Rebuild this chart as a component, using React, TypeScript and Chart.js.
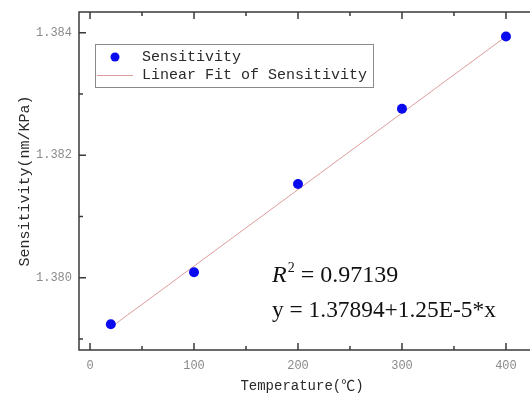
import React, { useEffect, useRef } from "react";
import { Chart, registerables } from "chart.js";

Chart.register(...registerables);

// ---- data ----
const temperatures = [20, 100, 200, 300, 400];
const sensitivity = [1.37924, 1.38009, 1.38153, 1.38276, 1.38394];
const fitX = [20, 400];
const fitY = [1.37919, 1.38394];
const xTickValues = [0, 100, 200, 300, 400];
const xMinorValues = [50, 150, 250, 350];
const yTickValues = [1.38, 1.382, 1.384];
const yMinorValues = [1.379, 1.381, 1.383];
const legendLabels = ["Sensitivity", "Linear Fit of Sensitivity"];
const r2Text = "0.97139";
const equationText = "y = 1.37894+1.25E-5*x";
const xTitle = "Temperature(℃)";
const yTitle = "Sensitivity(nm/KPa)";

const MONO = "'Liberation Mono', 'Noto Sans CJK SC', monospace";
const SERIF = "'Liberation Serif', serif";
const POINT_COLOR = "#0a0aee";
const LINE_COLOR = "#dc9c9c";

const overlay = {
  id: "overlay",
  afterDraw(chart: any) {
    const { ctx, chartArea: a, scales } = chart;
    const x = scales.x;
    const y = scales.y;
    const frameRight = chart.width;
    ctx.save();
    // frame (the right side runs off the picture, as in the original)
    ctx.strokeStyle = "#3a3a3a";
    ctx.lineWidth = 1.5;
    ctx.beginPath();
    ctx.moveTo(frameRight, a.top);
    ctx.lineTo(a.left, a.top);
    ctx.lineTo(a.left, a.bottom);
    ctx.lineTo(frameRight, a.bottom);
    ctx.stroke();
    // inward ticks
    const major = 7;
    const minor = 4;
    ctx.lineWidth = 1.5;
    ctx.beginPath();
    const xt = (v: number, len: number) => {
      const px = x.getPixelForValue(v);
      ctx.moveTo(px, a.bottom);
      ctx.lineTo(px, a.bottom - len);
      ctx.moveTo(px, a.top);
      ctx.lineTo(px, a.top + len);
    };
    const yt = (v: number, len: number) => {
      const py = y.getPixelForValue(v);
      ctx.moveTo(a.left, py);
      ctx.lineTo(a.left + len, py);
    };
    xTickValues.forEach((v) => xt(v, major));
    xMinorValues.forEach((v) => xt(v, minor));
    yTickValues.forEach((v) => yt(v, major));
    yMinorValues.forEach((v) => yt(v, minor));
    ctx.stroke();

    // legend
    const lx = a.left + 16;
    const ly = a.top + 32;
    const lw = 278;
    const lh = 43;
    ctx.strokeStyle = "#8a8a8a";
    ctx.lineWidth = 1;
    ctx.strokeRect(lx + 0.5, ly + 0.5, lw, lh);
    ctx.fillStyle = POINT_COLOR;
    ctx.beginPath();
    ctx.arc(lx + 20, ly + 13, 4.5, 0, Math.PI * 2);
    ctx.fill();
    ctx.strokeStyle = LINE_COLOR;
    ctx.lineWidth = 1;
    ctx.beginPath();
    ctx.moveTo(lx + 2, ly + 31.5);
    ctx.lineTo(lx + 38, ly + 31.5);
    ctx.stroke();
    ctx.fillStyle = "#2a2a2a";
    ctx.font = `15px ${MONO}`;
    ctx.textBaseline = "middle";
    ctx.textAlign = "left";
    ctx.fillText(legendLabels[0], lx + 47, ly + 13);
    ctx.fillText(legendLabels[1], lx + 47, ly + 31);

    // annotation
    const ax = a.left + 193;
    const ay1 = a.top + 270;
    const ay2 = a.top + 305;
    ctx.fillStyle = "#111";
    ctx.textBaseline = "alphabetic";
    ctx.font = `italic 24px ${SERIF}`;
    ctx.fillText("R", ax, ay1);
    let cx = ax + ctx.measureText("R").width + 1;
    ctx.font = `14px ${SERIF}`;
    ctx.fillText("2", cx, ay1 - 10);
    cx += ctx.measureText("2").width;
    ctx.font = `24px ${SERIF}`;
    ctx.fillText(" = " + r2Text, cx, ay1);
    ctx.font = `23.4px ${SERIF}`;
    ctx.fillText(equationText, ax, ay2);
    ctx.restore();
  },
};

export default function App() {
  const ref = useRef<HTMLCanvasElement | null>(null);
  useEffect(() => {
    document.body.style.margin = "0";
    const canvas = ref.current!;
    const chart = new Chart(canvas, {
      type: "scatter",
      data: {
        datasets: [
          {
            type: "line",
            label: legendLabels[1],
            data: fitX.map((v, i) => ({ x: v, y: fitY[i] })),
            borderColor: LINE_COLOR,
            borderWidth: 1,
            pointRadius: 0,
            fill: false,
            order: 2,
          } as any,
          {
            type: "scatter",
            label: legendLabels[0],
            data: temperatures.map((v, i) => ({ x: v, y: sensitivity[i] })),
            backgroundColor: POINT_COLOR,
            borderColor: POINT_COLOR,
            pointRadius: 5,
            borderWidth: 0,
            order: 1,
          },
        ],
      },
      options: {
        responsive: false,
        animation: false,
        devicePixelRatio: 1,
        layout: { padding: { top: 12, right: 0, left: 0, bottom: 0 } },
        plugins: { legend: { display: false }, tooltip: { enabled: false } },
        scales: {
          x: {
            type: "linear",
            min: -10.6,
            max: 418.3,
            grid: { display: false, drawTicks: false },
            border: { display: false },
            afterBuildTicks: (s: any) => {
              s.ticks = xTickValues.map((v) => ({ value: v }));
            },
            afterFit: (s: any) => {
              s.height = 49;
              s.paddingRight = 0;
              s.paddingLeft = 0;
            },
            ticks: {
              color: "#8a8a8a",
              font: { family: MONO, size: 12 },
              padding: 9,
              maxRotation: 0,
              callback: (v: any) => String(v),
            },
            title: {
              display: true,
              text: xTitle,
              color: "#2a2a2a",
              font: { family: MONO, size: 14 },
              padding: { top: 0, bottom: 4 },
            },
          },
          y: {
            type: "linear",
            min: 1.37882,
            max: 1.38434,
            grid: { display: false, drawTicks: false },
            border: { display: false },
            afterBuildTicks: (s: any) => {
              s.ticks = yTickValues.map((v) => ({ value: v }));
            },
            afterFit: (s: any) => {
              s.width = 79;
              s.paddingTop = 0;
              s.paddingBottom = 0;
            },
            ticks: {
              color: "#8a8a8a",
              font: { family: MONO, size: 12 },
              padding: 7,
              callback: (v: any) => Number(v).toFixed(3),
            },
            title: {
              display: true,
              text: yTitle,
              color: "#2a2a2a",
              font: { family: MONO, size: 15 },
              padding: { top: 16, bottom: 0 },
            },
          },
        },
      },
      plugins: [overlay],
    });
    return () => chart.destroy();
  }, []);
  return (
    <div style={{ position: "absolute", left: 0, top: 0, width: 530, height: 399 }}>
      <canvas ref={ref} width={530} height={399} />
    </div>
  );
}
